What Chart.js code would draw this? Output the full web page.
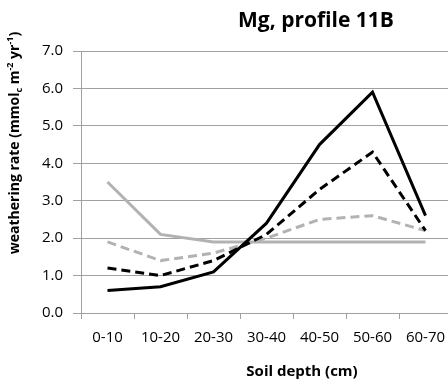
<!DOCTYPE html>
<html><head><meta charset="utf-8">
<script src="https://cdn.jsdelivr.net/npm/chart.js@4"></script>
<style>html,body{margin:0;padding:0;overflow:hidden;background:#fff}#wrap{width:456px;height:385px;position:relative}</style>
</head><body><div id="wrap"><canvas id="c" width="456" height="385"></canvas></div>
<script>
const categories = ['0-10','10-20','20-30','30-40','40-50','50-60','60-70'];
const blackSolid  = [0.6, 0.7, 1.1, 2.4, 4.5, 5.9, 2.6];
const blackDashed = [1.2, 1.0, 1.4, 2.1, 3.3, 4.3, 2.2];
const grayDashed  = [1.9, 1.4, 1.6, 2.0, 2.5, 2.6, 2.2];
const graySolid   = [3.5, 2.1, 1.9, 1.9, 1.9, 1.9, 1.9];
const yTicks = [0,1,2,3,4,5,6,7];
const chartTitle = 'Mg, profile 11B';
const xTitle = 'Soil depth (cm)';
const yTitleParts = [['weathering rate (mmol',0],['c',-1],[' m',0],['-2',1],[' yr',0],['-1',1],[')',0]];

const FONT = '"Open Sans", sans-serif';
const titles = {
  id:'titles',
  afterDraw(chart){
    const ctx = chart.ctx;
    ctx.save();
    ctx.fillStyle = '#000';
    ctx.textBaseline = 'middle';
    ctx.textAlign = 'center';
    ctx.font = 'bold 21px ' + FONT;
    ctx.fillText(chartTitle, 316, 21);
    ctx.font = 'bold 15px ' + FONT;
    ctx.fillText(xTitle, 302, 372);
    const big = 'bold 14px ' + FONT, small = 'bold 9px ' + FONT;
    let total = 0;
    yTitleParts.forEach(([t,k])=>{ctx.font = k? small: big; total += ctx.measureText(t).width;});
    ctx.translate(15, 143);
    ctx.rotate(-Math.PI/2);
    ctx.textAlign = 'left';
    let x = -total/2;
    yTitleParts.forEach(([t,k])=>{
      ctx.font = k? small: big;
      const dy = k===1 ? -5 : (k===-1 ? 4 : 0);
      ctx.fillText(t, x, dy);
      x += ctx.measureText(t).width;
    });
    ctx.restore();
  }
};

new Chart(document.getElementById('c'), {
  type:'line',
  data:{
    labels: categories,
    datasets:[
      {data: blackSolid, borderColor:'#000', borderWidth:3, order:1},
      {data: blackDashed, borderColor:'#000', borderWidth:3, borderDash:[9,5], order:2},
      {data: grayDashed, borderColor:'#b2b2b2', borderWidth:3, borderDash:[9,5], order:3},
      {data: graySolid, borderColor:'#b2b2b2', borderWidth:3, order:4}
    ]
  },
  options:{
    responsive:false, animation:false, devicePixelRatio:1,
    layout:{padding:{left:0, top:51, right:4, bottom:0}},
    elements:{point:{radius:0}, line:{tension:0, borderCapStyle:'butt', borderJoinStyle:'miter', fill:false}},
    plugins:{legend:{display:false}, tooltip:{enabled:false}, title:{display:false}},
    scales:{
      x:{
        offset:true,
        grid:{offset:true, drawOnChartArea:false, drawTicks:true, tickLength:6, color:'#a0a0a0'},
        border:{color:'#a0a0a0', width:1},
        ticks:{color:'#000', font:{family:FONT, size:15}, padding:10, maxRotation:0, autoSkip:false},
        afterFit(s){ s.height = 72; }
      },
      y:{
        min:0, max:7,
        afterBuildTicks(s){ s.ticks = yTicks.map(v=>({value:v})); },
        grid:{color:'#a0a0a0', tickLength:8, drawTicks:true},
        border:{color:'#a0a0a0', width:1},
        ticks:{color:'#000', font:{family:FONT, size:15}, padding:10, callback:v=>v.toFixed(1)},
        afterFit(s){ s.width = 81; }
      }
    }
  },
  plugins:[titles]
});
</script></body></html>
